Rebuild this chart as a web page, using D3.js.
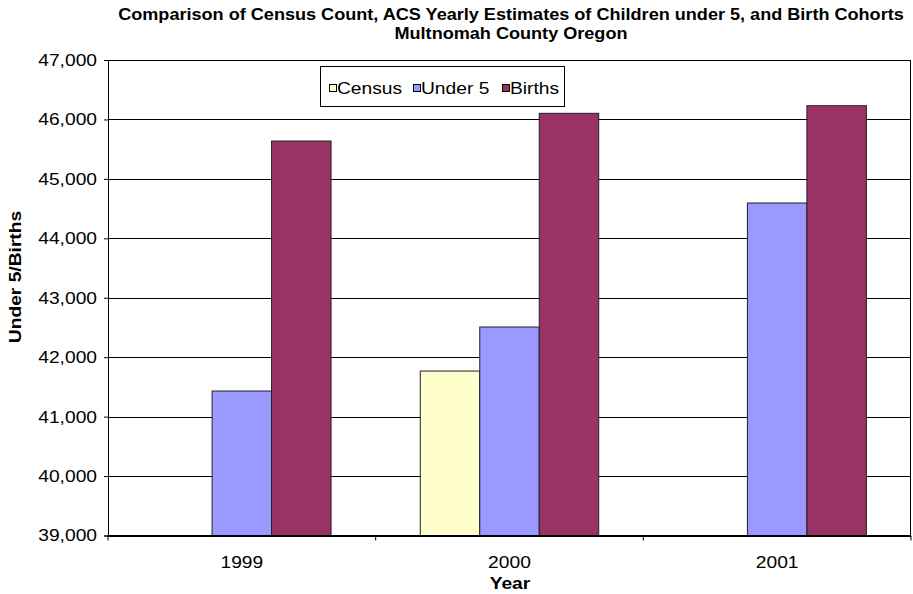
<!DOCTYPE html>
<html>
<head>
<meta charset="utf-8">
<script src="https://cdn.jsdelivr.net/npm/d3@7/dist/d3.min.js"></script>
<style>
  html, body { margin: 0; padding: 0; background: #fff; }
  svg { display: block; font-family: "Liberation Sans", Arial, sans-serif; }
</style>
</head>
<body>
<svg id="chart" width="913" height="594"></svg>
<script>
// Yearly values, Multnomah County
const years = ["1999", "2000", "2001"];
const seriesNames = ["Census", "Under 5", "Births"];
const census = [null, 41767, null];
const under5 = [41431, 42508, 44594];
const births = [45637, 46103, 46231];
const yTicks = [39000, 40000, 41000, 42000, 43000, 44000, 45000, 46000, 47000];
const seriesColors = ["#FFFFCC", "#9999FF", "#993366"];

const seriesValues = [census, under5, births];

const svg = d3.select("#chart");
const plotL = 108, plotR = 911, plotT = 60, plotB = 535.5;
const stretch = 1.13; // text is set slightly wide

// widen a text node horizontally by the stretch factor
function widen(sel) {
  sel.each(function () {
    const w = this.getComputedTextLength();
    d3.select(this).attr("textLength", w * stretch).attr("lengthAdjust", "spacingAndGlyphs");
  });
}

const x = d3.scaleBand().domain(years).range([plotL, plotR]).padding(0);
const xs = d3.scaleBand().domain(seriesNames).range([0, x.bandwidth()])
  .paddingInner(0).paddingOuter(0.75);
const y = d3.scaleLinear().domain([39000, 47000]).range([plotB, plotT]);

// Title
const title = svg.append("g").attr("font-weight", "bold").attr("font-size", 16)
  .attr("text-anchor", "middle").attr("fill", "#000");
title.append("text").attr("x", 511).attr("y", 20)
  .text("Comparison of Census Count, ACS Yearly Estimates of Children under 5, and Birth Cohorts");
title.append("text").attr("x", 511).attr("y", 39).text("Multnomah County Oregon");
widen(title.selectAll("text"));

// Gridlines
svg.append("g").selectAll("line").data(yTicks).join("line")
  .attr("x1", plotL).attr("x2", plotR)
  .attr("y1", d => Math.round(y(d)) + 0.5).attr("y2", d => Math.round(y(d)) + 0.5)
  .attr("stroke", "#000").attr("stroke-width", 1);

// Right border of the plot area
svg.append("line").attr("x1", plotR - 0.5).attr("x2", plotR - 0.5)
  .attr("y1", plotT).attr("y2", plotB).attr("stroke", "#000");

// Bars
const rows = [];
years.forEach((yr, i) => {
  seriesNames.forEach((s, j) => {
    const v = seriesValues[j][i];
    if (v != null) rows.push({ yr, s, v, c: seriesColors[j] });
  });
});
svg.append("g").selectAll("rect").data(rows).join("rect")
  .attr("x", d => x(d.yr) + xs(d.s))
  .attr("y", d => y(d.v))
  .attr("width", xs.bandwidth())
  .attr("height", d => plotB - y(d.v))
  .attr("fill", d => d.c)
  .attr("stroke", "#222").attr("stroke-width", 1);

// Y axis
const yAxis = svg.append("g").attr("transform", `translate(${plotL},0)`)
  .call(d3.axisLeft(y).tickValues(yTicks).tickFormat(d3.format(",")).tickSize(4).tickPadding(7));
yAxis.select(".domain").attr("stroke", "#000");
yAxis.selectAll("line").attr("stroke", "#000");
yAxis.selectAll("text").attr("font-size", 17).attr("fill", "#000")
  .attr("font-family", "Liberation Sans, Arial, sans-serif");
widen(yAxis.selectAll("text"));

// X axis: ticks between categories, labels centred
const xAxis = svg.append("g").attr("transform", `translate(0,${plotB})`);
xAxis.append("line").attr("x1", plotL).attr("x2", plotR).attr("stroke", "#000");
const bounds = [plotL].concat(years.map(d => x(d) + x.bandwidth()));
xAxis.selectAll("line.tk").data(bounds).join("line").attr("class", "tk")
  .attr("x1", d => d).attr("x2", d => d).attr("y1", 0).attr("y2", 5).attr("stroke", "#000");
xAxis.selectAll("text").data(years).join("text")
  .attr("x", d => x(d) + x.bandwidth() / 2).attr("y", 32)
  .attr("text-anchor", "middle").attr("font-size", 17).text(d => d);
widen(xAxis.selectAll("text"));

// Axis titles
const xTitle = svg.append("text").attr("x", 510).attr("y", 589).attr("text-anchor", "middle")
  .attr("font-weight", "bold").attr("font-size", 17).text("Year");
widen(xTitle);
const yTitle = svg.append("text").attr("transform", "translate(21,277) rotate(-90)")
  .attr("text-anchor", "middle").attr("font-weight", "bold").attr("font-size", 17)
  .text("Under 5/Births");
widen(yTitle);

// Legend
const lg = svg.append("g");
lg.append("rect").attr("x", 320.5).attr("y", 66.5).attr("width", 244).attr("height", 40)
  .attr("fill", "#fff").attr("stroke", "#000");
const legendX = [329, 413, 502];
seriesNames.forEach((s, i) => {
  lg.append("rect").attr("x", legendX[i] + 0.5).attr("y", 84.5).attr("width", 7).attr("height", 7)
    .attr("fill", seriesColors[i]).attr("stroke", "#000");
  lg.append("text").attr("x", legendX[i] + 8).attr("y", 93.5).attr("font-size", 17).text(s);
});
widen(lg.selectAll("text"));
</script>
</body>
</html>
